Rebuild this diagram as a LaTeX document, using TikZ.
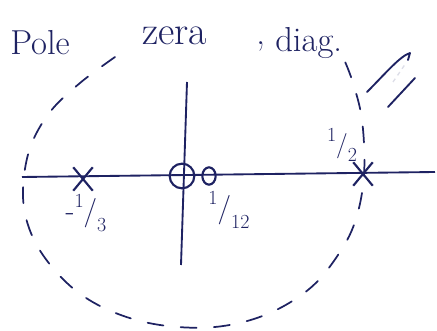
\documentclass[tikz,border=0pt]{standalone}
\usepackage{fontspec}
\usetikzlibrary{shapes.misc, shapes.geometric}
\definecolor{ink}{HTML}{1E2262}
\newcommand{\slfrac}[2]{\raisebox{.42em}{\fontsize{15}{15}\selectfont#1}/\raisebox{-.38em}{\fontsize{15}{15}\selectfont#2}}

\begin{document}
\begin{tikzpicture}[x=0.75pt, y=-0.75pt,
    axisline/.style={draw=ink, line width=1.4pt},
    polemark/.style={cross out, draw=ink, line width=1.6pt, minimum width=13pt, minimum height=16pt, inner sep=0pt},
    zeromark/.style={circle, draw=ink, line width=1.6pt, minimum size=18.5pt, inner sep=0pt},
    smallzero/.style={ellipse, draw=ink, line width=1.6pt, minimum width=10pt, minimum height=13pt, inner sep=0pt},
    lbl/.style={text=ink, font=\fontsize{22}{22}\selectfont, inner sep=0pt},
    titleword/.style={text=ink, font=\fontsize{26}{26}\selectfont, inner sep=0pt, anchor=base west},
    roc/.style={draw=ink, line width=1.3pt, dash pattern=on 12pt off 13pt, line cap=round}
]
    \useasboundingbox (0,0) rectangle (437,331);

    % title
    \node[titleword] (wpole) at (10,55) {Pole};
    \node[titleword, font=\fontsize{30}{30}\selectfont] (wzera) at (142,45) {zera};
    \node[titleword] (wcomma) at (256,45) {,};
    \node[titleword] (wdiag) at (275,52) {diag.};

    % axes
    \coordinate (re west) at (22,177);
    \coordinate (re east) at (435,172);
    \coordinate (im north) at (187,82);
    \coordinate (im south) at (181,265);
    \draw[axisline] (re west) -- (re east);
    \draw[axisline] (im north) -- (im south);

    % poles and zeros
    \node[zeromark] (z0) at (182,176) {};
    \node[smallzero] (z1) at (209,176) {};
    \node[polemark] (p1) at (83,179) {};
    \node[polemark] (p2) at (363,174) {};

    \node[lbl] (lp1) at (86,213) {-\slfrac{1}{3}};
    \node[lbl] (lz1) at (229,210) {\slfrac{1}{12}};
    \node[lbl, font=\fontsize{19}{19}\selectfont] (lp2) at (342,145) {\slfrac{1}{2}};

    % region of convergence
    \draw[roc] plot[smooth, tension=0.6] coordinates {(115,57) (80,83) (50,112) (30,148) (23,190) (28,225) (45,258) (75,290) (113,312) (160,325) (215,327) (265,315) (308,290) (336,258) (355,222) (364,175) (362,120) (352,80) (342,55)};

    % tick
    \draw[ink, line width=1.4pt, line cap=round, line join=round] (367,92) .. controls (385,74) and (400,56) .. (410,53) -- (408,60);
    \draw[ink, line width=1.4pt, line cap=round] (388,107) -- (415,78);
    \draw[ink!15, line width=1pt, dashed] (393,82) -- (406,63);
\end{tikzpicture}
\end{document}
